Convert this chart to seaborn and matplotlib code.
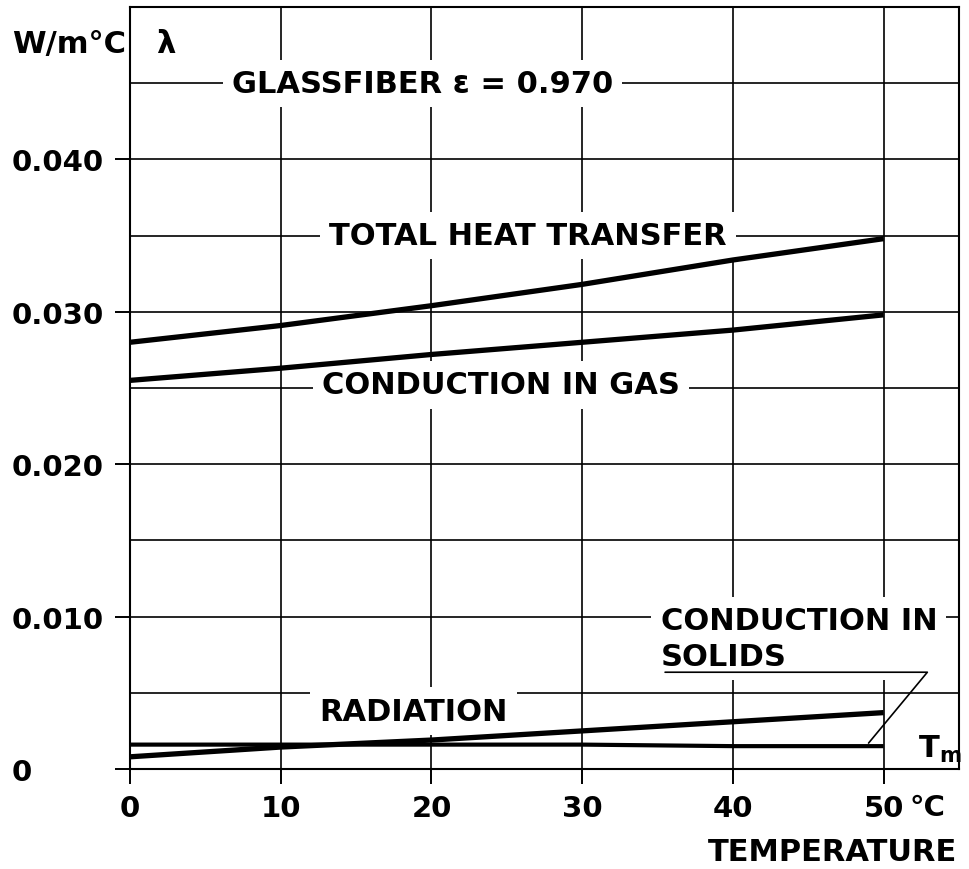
import matplotlib
matplotlib.use("Agg")
import matplotlib.pyplot as plt
import seaborn as sns
import pandas as pd

# Thermal conductivity of glass fibre insulation vs. mean temperature
temperature = [0, 10, 20, 30, 40, 50]
total_heat_transfer = [0.0280, 0.0291, 0.0304, 0.0318, 0.0334, 0.0348]
conduction_gas = [0.0255, 0.0263, 0.0272, 0.0280, 0.0288, 0.0298]
radiation = [0.0008, 0.00144, 0.0019, 0.0025, 0.0031, 0.0037]
conduction_solids = [0.0016, 0.0016, 0.0016, 0.0016, 0.0015, 0.0015]

series_names = ["TOTAL HEAT TRANSFER", "CONDUCTION IN GAS", "RADIATION", "CONDUCTION IN SOLIDS"]
series_values = [total_heat_transfer, conduction_gas, radiation, conduction_solids]
series_widths = [3.8, 3.8, 3.8, 3.0]

x_ticks = [0, 10, 20, 30, 40, 50]
x_tick_labels = ["0", "10", "20", "30", "40", "50"]
y_ticks = [0.0, 0.010, 0.020, 0.030, 0.040]
y_tick_labels = ["0", "0.010", "0.020", "0.030", "0.040"]
y_minor = [0.005, 0.015, 0.025, 0.035, 0.045]

frames = []
for name, vals in zip(series_names, series_values):
    frames.append(pd.DataFrame({"T": temperature, "lam": vals, "series": name}))
df = pd.concat(frames, ignore_index=True)

sns.set_theme(style="ticks")
plt.rcParams["font.family"] = ["DejaVu Sans"]
plt.rcParams["font.weight"] = "bold"
plt.rcParams["text.color"] = "black"
plt.rcParams["axes.labelcolor"] = "black"
plt.rcParams["xtick.color"] = "black"
plt.rcParams["ytick.color"] = "black"

W, H = 970, 870
fig = plt.figure(figsize=(W / 100, H / 100), dpi=100)
ax = fig.add_axes([130 / W, 100 / H, 829 / W, 762 / H])

FS = 22
ink = "black"

for name, lw in zip(series_names, series_widths):
    sns.lineplot(data=df[df["series"] == name], x="T", y="lam", ax=ax,
                 color=ink, linewidth=lw, zorder=5, legend=False,
                 solid_capstyle="butt")

ax.set_xlim(0, 55)
ax.set_ylim(0, 0.05)
ax.set_xlabel("")
ax.set_ylabel("")

ax.set_xticks(x_ticks)
ax.set_xticklabels(x_tick_labels, fontsize=FS - 1, fontweight="bold")
ax.set_yticks(y_ticks)
ax.set_yticklabels(y_tick_labels, fontsize=FS - 1, fontweight="bold")
ax.set_yticks(y_minor, minor=True)

ax.tick_params(axis="both", which="major", direction="out", length=11,
               width=1.4, color=ink, labelcolor=ink)
ax.tick_params(axis="both", which="minor", length=0)
ax.tick_params(axis="x", which="major", pad=7)
ax.tick_params(axis="y", which="major", pad=74)
for lab in ax.get_yticklabels():
    lab.set_horizontalalignment("left")

ax.grid(which="both", color=ink, linewidth=1.2)
ax.set_axisbelow(True)
for sp in ax.spines.values():
    sp.set_color(ink)
    sp.set_linewidth(1.5)

box = dict(facecolor="white", edgecolor="none", boxstyle="square,pad=0.3")

ax.text(19.4, 0.045, "GLASSFIBER ε = 0.970", fontsize=FS, fontweight="bold",
        ha="center", va="center", bbox=box, zorder=3)
ax.text(26.4, 0.035, "TOTAL HEAT TRANSFER", fontsize=FS, fontweight="bold",
        ha="center", va="center", bbox=box, zorder=3)
ax.text(24.6, 0.0252, "CONDUCTION IN GAS", fontsize=FS, fontweight="bold",
        ha="center", va="center", bbox=box, zorder=3)
ax.text(18.8, 0.0038, "RADIATION", fontsize=FS, fontweight="bold",
        ha="center", va="center", bbox=box, zorder=3)
ax.text(35.2, 0.0107, "CONDUCTION IN\nSOLIDS", fontsize=FS, fontweight="bold",
        ha="left", va="top", linespacing=1.3, bbox=box, zorder=3)

# leader from the SOLIDS label to its curve
ax.plot([35.5, 52.9, 49.0], [0.00635, 0.00635, 0.0017], color=ink,
        linewidth=1.2, zorder=6)

ax.text(52.3, 0.0003, r"T$_\mathregular{m}$", fontsize=FS, fontweight="bold",
        ha="left", va="bottom", zorder=6)

fig.text(12 / W, 1 - 53 / H, "W/m°C", fontsize=FS, fontweight="bold",
         ha="left", va="baseline")
fig.text(156 / W, 1 - 53 / H, "λ", fontsize=FS, fontweight="bold",
         ha="left", va="baseline")
fig.text(910 / W, 1 - 808 / H, "°C", fontsize=FS - 1, fontweight="bold",
         ha="left", va="center")
fig.text(957 / W, 1 - 853 / H, "TEMPERATURE", fontsize=FS, fontweight="bold",
         ha="right", va="center")

fig.savefig("out.png", dpi=100, facecolor="white")
